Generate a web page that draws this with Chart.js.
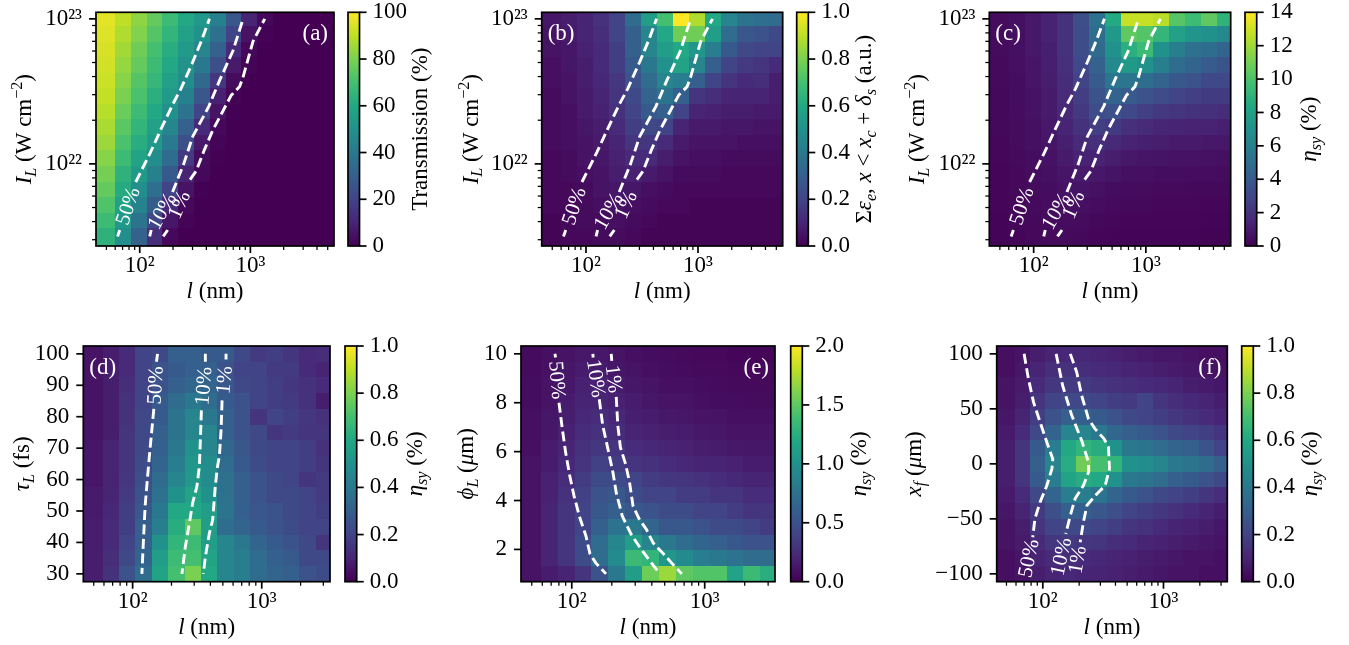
<!DOCTYPE html>
<html>
<head>
<meta charset="utf-8">
<script src="https://cdn.jsdelivr.net/npm/chart.js@4.4.0/dist/chart.umd.min.js"></script>
<style>
  html, body { margin: 0; padding: 0; background: #fff; }
  body { width: 1349px; height: 645px; position: relative; overflow: hidden; }
  canvas { position: absolute; }
</style>
</head>
<body>
<script>
// ---- grid centres ----
const lTop = [50, 69.5, 96.5, 134.1, 186.4, 259.0, 359.9, 500, 694.7, 965.3, 1341, 1864, 2590, 3598, 5000];
const intensity = [3.16e21, 4.05e21, 5.18e21, 6.63e21, 8.48e21, 1.085e22, 1.389e22, 1.778e22, 2.276e22, 2.911e22, 3.728e22, 4.768e22, 6.102e22, 7.809e22, 1e23];
const lBottom = [50, 67.0, 89.8, 120.3, 161.1, 215.9, 289.2, 387.5, 519.2, 695.6, 932.0, 1249, 1673, 2242, 3000];
const tau = [30, 35, 40, 45, 50, 55, 60, 65, 70, 75, 80, 85, 90, 95, 100];
const phi = [1, 1.64, 2.29, 2.93, 3.57, 4.21, 4.86, 5.5, 6.14, 6.79, 7.43, 8.07, 8.71, 9.36, 10];
const xFocus = [-100, -85.7, -71.4, -57.1, -42.9, -28.6, -14.3, 0, 14.3, 28.6, 42.9, 57.1, 71.4, 85.7, 100];

// ---- cell values, first row = top of the panel ----
const transmission = [
  [96, 90, 83, 76, 68, 60, 53, 43, 27, 10, 2, 0, 0, 0, 0],
  [95, 88, 81, 73, 65, 57, 50, 37, 20, 5, 0.5, 0, 0, 0, 0],
  [94, 86, 78, 70, 62, 54, 45, 31, 12, 2, 0, 0, 0, 0, 0],
  [93, 84, 76, 68, 60, 51, 40, 24, 7, 1, 0, 0, 0, 0, 0],
  [92, 82, 73, 66, 57, 48, 34, 16, 3, 0, 0, 0, 0, 0, 0],
  [91, 80, 71, 63, 54, 43, 27, 9, 1, 0, 0, 0, 0, 0, 0],
  [89, 77, 68, 60, 50, 38, 20, 5, 0.4, 0, 0, 0, 0, 0, 0],
  [87, 74, 65, 57, 46, 31, 12, 2, 0, 0, 0, 0, 0, 0, 0],
  [85, 71, 62, 53, 41, 24, 7, 1, 0, 0, 0, 0, 0, 0, 0],
  [82, 68, 58, 48, 35, 17, 3, 0.3, 0, 0, 0, 0, 0, 0, 0],
  [79, 64, 54, 43, 28, 10, 2, 0, 0, 0, 0, 0, 0, 0, 0],
  [76, 61, 49, 36, 20, 5, 0.4, 0, 0, 0, 0, 0, 0, 0, 0],
  [72, 57, 44, 29, 12, 2, 0, 0, 0, 0, 0, 0, 0, 0, 0],
  [68, 53, 38, 21, 6, 1, 0, 0, 0, 0, 0, 0, 0, 0, 0],
  [64, 49, 31, 13, 2, 0, 0, 0, 0, 0, 0, 0, 0, 0, 0]
];
const electronEnergy = [
  [0.06, 0.08, 0.1, 0.14, 0.2, 0.35, 0.55, 0.7, 1.0, 0.88, 0.6, 0.45, 0.38, 0.36, 0.35],
  [0.05, 0.07, 0.1, 0.13, 0.2, 0.3, 0.45, 0.6, 0.78, 0.78, 0.55, 0.35, 0.27, 0.25, 0.22],
  [0.05, 0.06, 0.09, 0.12, 0.18, 0.3, 0.45, 0.55, 0.6, 0.52, 0.42, 0.28, 0.22, 0.2, 0.2],
  [0.04, 0.06, 0.08, 0.12, 0.18, 0.28, 0.4, 0.5, 0.58, 0.45, 0.3, 0.2, 0.17, 0.15, 0.12],
  [0.04, 0.05, 0.08, 0.11, 0.16, 0.25, 0.35, 0.45, 0.42, 0.3, 0.2, 0.15, 0.12, 0.13, 0.08],
  [0.03, 0.05, 0.07, 0.1, 0.15, 0.22, 0.32, 0.38, 0.3, 0.15, 0.13, 0.1, 0.1, 0.1, 0.08],
  [0.03, 0.04, 0.07, 0.09, 0.14, 0.2, 0.28, 0.3, 0.2, 0.1, 0.09, 0.08, 0.08, 0.07, 0.07],
  [0.03, 0.04, 0.06, 0.08, 0.12, 0.18, 0.22, 0.2, 0.1, 0.07, 0.07, 0.06, 0.06, 0.05, 0.05],
  [0.03, 0.04, 0.05, 0.07, 0.1, 0.15, 0.16, 0.12, 0.07, 0.05, 0.05, 0.05, 0.04, 0.04, 0.04],
  [0.02, 0.03, 0.05, 0.06, 0.09, 0.12, 0.12, 0.08, 0.05, 0.04, 0.04, 0.03, 0.03, 0.03, 0.03],
  [0.02, 0.03, 0.04, 0.05, 0.08, 0.09, 0.07, 0.05, 0.03, 0.03, 0.03, 0.02, 0.02, 0.02, 0.02],
  [0.02, 0.02, 0.03, 0.05, 0.06, 0.06, 0.04, 0.03, 0.02, 0.02, 0.02, 0.02, 0.02, 0.02, 0.02],
  [0.02, 0.02, 0.03, 0.04, 0.05, 0.04, 0.03, 0.02, 0.02, 0.01, 0.01, 0.01, 0.01, 0.01, 0.01],
  [0.01, 0.02, 0.03, 0.03, 0.04, 0.03, 0.02, 0.01, 0.01, 0.01, 0.01, 0.01, 0.01, 0.01, 0.01],
  [0.01, 0.02, 0.02, 0.03, 0.03, 0.02, 0.01, 0.01, 0.01, 0.01, 0.01, 0.01, 0.01, 0.01, 0.01]
];
const etaIntensity = [
  [0.4, 0.6, 0.9, 1.3, 2.0, 3.3, 5.2, 8.5, 12.8, 12.8, 12.5, 10.3, 9.5, 10.5, 9.0],
  [0.4, 0.6, 0.9, 1.3, 2.0, 3.2, 5.0, 7.5, 10.5, 10.2, 9.2, 8.0, 7.2, 7.0, 6.5],
  [0.4, 0.6, 0.9, 1.2, 2.0, 3.2, 4.8, 7.0, 8.8, 9.5, 7.0, 6.0, 5.2, 5.0, 4.5],
  [0.35, 0.55, 0.8, 1.2, 1.9, 3.0, 4.3, 6.5, 7.5, 7.0, 6.0, 5.0, 4.5, 4.0, 3.6],
  [0.35, 0.5, 0.8, 1.1, 1.8, 2.8, 4.0, 5.5, 5.5, 5.0, 4.5, 3.8, 3.5, 3.0, 3.0],
  [0.3, 0.5, 0.7, 1.0, 1.7, 2.5, 3.6, 4.5, 4.0, 3.5, 3.2, 2.8, 2.6, 2.4, 2.4],
  [0.3, 0.45, 0.7, 1.0, 1.6, 2.3, 3.2, 3.5, 3.0, 2.6, 2.3, 2.1, 2.0, 1.9, 1.8],
  [0.3, 0.4, 0.6, 0.9, 1.4, 2.0, 2.6, 2.4, 1.9, 1.7, 1.5, 1.4, 1.3, 1.3, 1.2],
  [0.25, 0.4, 0.6, 0.8, 1.2, 1.7, 1.9, 1.6, 1.3, 1.2, 1.1, 1.0, 1.0, 0.9, 0.9],
  [0.25, 0.35, 0.5, 0.7, 1.0, 1.3, 1.3, 1.1, 0.9, 0.8, 0.75, 0.7, 0.7, 0.65, 0.6],
  [0.2, 0.3, 0.45, 0.6, 0.8, 1.0, 0.9, 0.75, 0.6, 0.55, 0.5, 0.5, 0.45, 0.45, 0.4],
  [0.2, 0.3, 0.4, 0.5, 0.7, 0.75, 0.65, 0.5, 0.4, 0.4, 0.35, 0.35, 0.3, 0.3, 0.3],
  [0.2, 0.25, 0.35, 0.45, 0.55, 0.55, 0.45, 0.35, 0.3, 0.3, 0.25, 0.25, 0.25, 0.2, 0.2],
  [0.15, 0.25, 0.3, 0.4, 0.45, 0.4, 0.3, 0.25, 0.2, 0.2, 0.2, 0.2, 0.2, 0.15, 0.15],
  [0.15, 0.2, 0.3, 0.35, 0.35, 0.3, 0.2, 0.15, 0.15, 0.15, 0.15, 0.15, 0.15, 0.1, 0.1]
];
const etaTau = [
  [0.05, 0.08, 0.12, 0.2, 0.22, 0.3, 0.3, 0.28, 0.28, 0.22, 0.17, 0.18, 0.15, 0.12, 0.13],
  [0.05, 0.08, 0.12, 0.2, 0.25, 0.28, 0.3, 0.3, 0.25, 0.2, 0.2, 0.17, 0.17, 0.12, 0.1],
  [0.05, 0.08, 0.13, 0.2, 0.25, 0.3, 0.33, 0.32, 0.27, 0.22, 0.2, 0.18, 0.16, 0.14, 0.12],
  [0.05, 0.08, 0.14, 0.2, 0.28, 0.35, 0.4, 0.35, 0.28, 0.25, 0.2, 0.18, 0.17, 0.14, 0.08],
  [0.05, 0.08, 0.14, 0.22, 0.28, 0.38, 0.45, 0.4, 0.3, 0.25, 0.15, 0.2, 0.18, 0.16, 0.14],
  [0.05, 0.08, 0.15, 0.22, 0.3, 0.38, 0.45, 0.45, 0.3, 0.25, 0.22, 0.15, 0.17, 0.15, 0.15],
  [0.06, 0.1, 0.15, 0.22, 0.3, 0.4, 0.5, 0.45, 0.33, 0.27, 0.22, 0.2, 0.2, 0.18, 0.14],
  [0.06, 0.1, 0.15, 0.23, 0.32, 0.42, 0.52, 0.48, 0.35, 0.28, 0.23, 0.2, 0.2, 0.18, 0.15],
  [0.06, 0.1, 0.16, 0.24, 0.35, 0.45, 0.53, 0.48, 0.37, 0.3, 0.25, 0.22, 0.2, 0.15, 0.17],
  [0.07, 0.1, 0.17, 0.25, 0.37, 0.5, 0.58, 0.5, 0.37, 0.3, 0.25, 0.22, 0.22, 0.2, 0.17],
  [0.07, 0.11, 0.18, 0.27, 0.4, 0.6, 0.6, 0.55, 0.38, 0.3, 0.27, 0.25, 0.22, 0.2, 0.18],
  [0.08, 0.12, 0.18, 0.3, 0.42, 0.62, 0.75, 0.55, 0.35, 0.32, 0.28, 0.25, 0.23, 0.2, 0.2],
  [0.08, 0.12, 0.2, 0.3, 0.5, 0.65, 0.68, 0.55, 0.45, 0.4, 0.32, 0.28, 0.25, 0.22, 0.15],
  [0.08, 0.13, 0.22, 0.32, 0.55, 0.68, 0.7, 0.58, 0.45, 0.42, 0.35, 0.3, 0.28, 0.22, 0.22],
  [0.08, 0.14, 0.25, 0.35, 0.58, 0.7, 0.8, 0.6, 0.45, 0.42, 0.35, 0.32, 0.3, 0.25, 0.23]
];
const etaPhi = [
  [0.06, 0.08, 0.1, 0.13, 0.13, 0.1, 0.08, 0.07, 0.06, 0.05, 0.04, 0.04, 0.03, 0.03, 0.03],
  [0.06, 0.09, 0.12, 0.15, 0.15, 0.12, 0.1, 0.08, 0.07, 0.06, 0.05, 0.05, 0.04, 0.04, 0.04],
  [0.07, 0.1, 0.13, 0.18, 0.18, 0.15, 0.12, 0.1, 0.08, 0.08, 0.07, 0.06, 0.05, 0.05, 0.05],
  [0.07, 0.1, 0.15, 0.2, 0.2, 0.18, 0.15, 0.12, 0.1, 0.1, 0.08, 0.07, 0.07, 0.06, 0.06],
  [0.08, 0.12, 0.16, 0.22, 0.25, 0.22, 0.17, 0.15, 0.13, 0.12, 0.1, 0.1, 0.08, 0.08, 0.08],
  [0.08, 0.12, 0.18, 0.25, 0.28, 0.25, 0.2, 0.18, 0.16, 0.15, 0.13, 0.12, 0.1, 0.1, 0.1],
  [0.08, 0.15, 0.2, 0.28, 0.32, 0.3, 0.25, 0.22, 0.2, 0.18, 0.16, 0.15, 0.13, 0.12, 0.12],
  [0.1, 0.15, 0.22, 0.3, 0.38, 0.35, 0.3, 0.28, 0.25, 0.22, 0.2, 0.2, 0.18, 0.15, 0.15],
  [0.1, 0.18, 0.25, 0.35, 0.45, 0.45, 0.4, 0.35, 0.32, 0.3, 0.28, 0.25, 0.22, 0.2, 0.2],
  [0.1, 0.18, 0.28, 0.38, 0.5, 0.55, 0.45, 0.4, 0.4, 0.35, 0.35, 0.3, 0.3, 0.25, 0.25],
  [0.1, 0.2, 0.3, 0.4, 0.55, 0.6, 0.55, 0.5, 0.45, 0.45, 0.4, 0.4, 0.35, 0.3, 0.3],
  [0.1, 0.2, 0.3, 0.4, 0.6, 0.75, 0.8, 0.65, 0.55, 0.55, 0.5, 0.45, 0.45, 0.4, 0.35],
  [0.1, 0.2, 0.3, 0.45, 0.7, 0.9, 1.1, 0.9, 0.8, 0.7, 0.65, 0.6, 0.55, 0.5, 0.5],
  [0.1, 0.2, 0.3, 0.45, 0.7, 0.95, 1.35, 1.3, 1.05, 0.95, 0.85, 0.8, 0.75, 0.7, 0.7],
  [0.1, 0.15, 0.2, 0.3, 0.5, 0.8, 1.1, 1.55, 1.7, 1.5, 1.45, 1.45, 1.15, 1.35, 1.25]
];
const etaFocus = [
  [0.04, 0.05, 0.08, 0.1, 0.11, 0.11, 0.1, 0.09, 0.08, 0.07, 0.06, 0.06, 0.05, 0.04, 0.04],
  [0.04, 0.06, 0.1, 0.13, 0.14, 0.13, 0.12, 0.11, 0.1, 0.09, 0.08, 0.07, 0.06, 0.05, 0.05],
  [0.05, 0.07, 0.12, 0.16, 0.17, 0.17, 0.15, 0.14, 0.13, 0.12, 0.11, 0.1, 0.08, 0.07, 0.06],
  [0.05, 0.08, 0.15, 0.2, 0.22, 0.22, 0.2, 0.18, 0.17, 0.2, 0.15, 0.13, 0.11, 0.1, 0.08],
  [0.06, 0.1, 0.18, 0.25, 0.3, 0.3, 0.28, 0.25, 0.22, 0.2, 0.18, 0.16, 0.14, 0.12, 0.1],
  [0.07, 0.12, 0.22, 0.32, 0.45, 0.45, 0.4, 0.33, 0.3, 0.28, 0.25, 0.22, 0.2, 0.18, 0.15],
  [0.08, 0.15, 0.28, 0.42, 0.6, 0.65, 0.62, 0.5, 0.4, 0.38, 0.35, 0.32, 0.3, 0.25, 0.2],
  [0.08, 0.15, 0.3, 0.45, 0.62, 0.78, 0.7, 0.65, 0.5, 0.48, 0.45, 0.4, 0.38, 0.35, 0.3],
  [0.08, 0.15, 0.28, 0.42, 0.58, 0.62, 0.6, 0.5, 0.4, 0.38, 0.35, 0.3, 0.28, 0.25, 0.22],
  [0.07, 0.12, 0.22, 0.32, 0.42, 0.42, 0.38, 0.32, 0.28, 0.25, 0.22, 0.2, 0.18, 0.15, 0.13],
  [0.06, 0.1, 0.17, 0.24, 0.3, 0.3, 0.27, 0.24, 0.2, 0.18, 0.16, 0.14, 0.12, 0.1, 0.08],
  [0.05, 0.08, 0.15, 0.2, 0.22, 0.22, 0.2, 0.18, 0.15, 0.14, 0.12, 0.1, 0.09, 0.08, 0.06],
  [0.05, 0.07, 0.12, 0.16, 0.17, 0.16, 0.15, 0.13, 0.12, 0.1, 0.09, 0.08, 0.07, 0.06, 0.05],
  [0.04, 0.06, 0.1, 0.12, 0.13, 0.12, 0.11, 0.1, 0.09, 0.08, 0.07, 0.06, 0.05, 0.05, 0.04],
  [0.04, 0.05, 0.08, 0.1, 0.11, 0.1, 0.1, 0.09, 0.08, 0.07, 0.06, 0.05, 0.05, 0.04, 0.04]
];

// ---- contour paths [l, y]; null = gap where the label sits ----
const top50 = [[63, 3.16e21], [66, 3.5e21], null, [92, 7.5e21], [125, 1.2e22], [157, 1.76e22], [200, 2.6e22], [236, 3.3e22], [300, 5.0e22], [360, 7.0e22], [427, 1e23]];
const top10 = [[123, 3.16e21], [127, 3.5e21], null, [198, 6.4e21], [250, 1.0e22], [301, 1.54e22], [421, 2.49e22], [526, 3.75e22], [695, 6.0e22], [860, 1e23]];
const top1 = [[163, 3.16e21], [179, 3.5e21], null, [285, 7.8e21], [323, 8.9e21], [384, 1.25e22], [458, 1.71e22], [671, 2.97e22], [800, 3.41e22], [857, 3.94e22], [1057, 7.0e22], [1349, 1e23]];
const tau50 = [[156, 100], [153, 97.5], null, [146, 82.5], [141, 76], [135, 67.6], [130, 60], [125, 51.5], [121, 39.7], [118, 30]];
const tau10 = [[366, 100], [366, 97.5], null, [341, 82], [335, 72.9], [329, 64.3], [315, 57.9], [292, 52.6], [275, 46.1], [256, 38.6], [241, 30]];
const tau1 = [[529, 100], [529, 98.2], null, [493, 85.2], [485, 76.1], [470, 67.6], [451, 63.3], [435, 56.9], [417, 47.2], [393, 42.9], [366, 35.4], [353, 30]];
const phi50 = [[74.7, 10], [75.5, 9.85], null, [80.1, 8.0], [84.9, 6.93], [89.9, 5.97], [96.6, 5.01], [104, 4.19], [114, 3.36], [128, 2.54], [137, 1.82], [152, 1.44], [181, 1.0]];
const phi10 = [[144, 10], [145, 9.85], null, [161, 8.14], [171, 7.07], [187, 6.11], [204, 5.15], [216, 4.32], [240, 3.36], [281, 2.6], [334, 1.99], [398, 1.44], [460, 1.0]];
const phi1 = [[198, 10], [200, 9.71], null, [216, 8.24], [222, 7.07], [232, 6.18], [254, 5.49], [272, 4.74], [289, 3.77], [321, 3.25], [365, 2.81], [410, 2.26], [489, 1.82], [565, 1.44], [673, 1.0]];
const focus50 = [[70, 100], [76, 77.3], [83.8, 56.1], [95, 37.9], [108, 19.7], [121, 4.5], [119, -4.5], [108, -19.7], [95, -34.8], [86, -50], [82.6, -66.7], null, [70, -105]];
const focus10 = [[129, 100], [146, 71.2], [174, 43.9], [210, 21.2], [239, 1.5], [239, -7.6], [217, -19.7], [185, -31.8], [169, -47], [155, -63.6], null, [129, -105]];
const focus1 = [[169, 100], [191, 83.3], [210, 62.1], [239, 40.9], [271, 31.8], [322, 22.7], [350, 15.2], [357, -4.5], [329, -19.7], [272, -28.8], [232, -37.9], [217, -53], [204, -71.2], null, [182, -103]];

// ---- ticks ----
const lTicks = [100, 1000];
const lTickLabels = ['10²', '10³'];
const iTicks = [1e22, 1e23];
const iTickLabels = ['10²²', '10²³'];
const tauTicks = [30, 40, 50, 60, 70, 80, 90, 100];
const phiTicks = [2, 4, 6, 8, 10];
const focusTicks = [-100, -50, 0, 50, 100];
const focusTickLabels = ['−100', '−50', '0', '50', '100'];
const transTicks = [0, 20, 40, 60, 80, 100];
const unitTicks = [0, 0.2, 0.4, 0.6, 0.8, 1.0];
const unitTickLabels = ['0.0', '0.2', '0.4', '0.6', '0.8', '1.0'];
const etaTicks = [0, 2, 4, 6, 8, 10, 12, 14];
const phiEtaTicks = [0, 0.5, 1, 1.5, 2];
const phiEtaTickLabels = ['0.0', '0.5', '1.0', '1.5', '2.0'];

const SERIF = '"Liberation Serif", "DejaVu Serif", serif';
const FS = 23;
const VIRIDIS = ['#440154', '#482475', '#414487', '#355f8d', '#2a788e', '#21918c', '#22a884', '#44bf70', '#7ad151', '#bddf26', '#fde725'];
const RGB = VIRIDIS.map(h => [1, 3, 5].map(k => parseInt(h.substr(k, 2), 16)));

function viridis(t) {
  t = Math.min(1, Math.max(0, t)) * (RGB.length - 1);
  const i = Math.min(Math.floor(t), RGB.length - 2), f = t - i;
  const c = RGB[i].map((v, k) => Math.round(v + (RGB[i + 1][k] - v) * f));
  return `rgb(${c[0]},${c[1]},${c[2]})`;
}

// pcolormesh style cell edges from the centres
function edges(c) {
  const n = c.length, e = [c[0] - (c[1] - c[0]) / 2];
  for (let i = 0; i < n - 1; i++) e.push((c[i] + c[i + 1]) / 2);
  e.push(c[n - 1] + (c[n - 1] - c[n - 2]) / 2);
  return e;
}

function logMinor(min, max) {
  const out = [];
  for (let e = Math.floor(Math.log10(min)); e <= Math.ceil(Math.log10(max)); e++) {
    for (let m = 2; m <= 9; m++) {
      const v = m * Math.pow(10, e);
      if (v >= min && v <= max) out.push(v);
    }
  }
  return out;
}

function richText(ctx, parts, x, y, angle, color) {
  const font = p => `${p.i ? 'italic ' : ''}${p.s ? FS * 0.7 : FS}px ${SERIF}`;
  ctx.save();
  ctx.translate(x, y);
  ctx.rotate(angle);
  let w = 0;
  parts.forEach(p => { ctx.font = font(p); w += ctx.measureText(p.t).width; });
  let cx = -w / 2;
  ctx.fillStyle = color || '#000';
  ctx.textAlign = 'left';
  ctx.textBaseline = 'alphabetic';
  parts.forEach(p => {
    ctx.font = font(p);
    const dy = p.s === 'sub' ? 0.2 * FS : p.s === 'sup' ? -0.4 * FS : 0;
    ctx.fillText(p.t, cx, dy);
    cx += ctx.measureText(p.t).width;
  });
  ctx.restore();
}

const T_L = [{t: 'l', i: 1}, {t: ' (nm)'}];
const T_I = [{t: 'I', i: 1}, {t: 'L', i: 1, s: 'sub'}, {t: ' (W cm'}, {t: '−2', s: 'sup'}, {t: ')'}];
const T_TAU = [{t: 'τ', i: 1}, {t: 'L', i: 1, s: 'sub'}, {t: ' (fs)'}];
const T_PHI = [{t: 'ϕ', i: 1}, {t: 'L', i: 1, s: 'sub'}, {t: ' ('}, {t: 'μ', i: 1}, {t: 'm)'}];
const T_XF = [{t: 'x', i: 1}, {t: 'f', i: 1, s: 'sub'}, {t: ' ('}, {t: 'μ', i: 1}, {t: 'm)'}];
const T_TRANS = [{t: 'Transmission (%)'}];
const T_SUM = [{t: 'Σ'}, {t: 'ε', i: 1}, {t: 'e', i: 1, s: 'sub'}, {t: ', '}, {t: 'x', i: 1}, {t: ' < '}, {t: 'x', i: 1}, {t: 'c', i: 1, s: 'sub'}, {t: ' + '}, {t: 'δ', i: 1}, {t: 's', i: 1, s: 'sub'}, {t: ' (a.u.)'}];
const T_ETA = [{t: 'η', i: 1}, {t: 'sy', i: 1, s: 'sub'}, {t: ' (%)'}];

function axisOpts(type, min, max, major, labels, minor, pad, fit, pos) {
  const all = major.concat(minor).sort((a, b) => a - b);
  return {
    type, min, max, position: pos, bounds: 'data',
    grid: {display: false, drawTicks: false},
    border: {display: false},
    afterBuildTicks: s => { s.ticks = all.map(v => ({value: v})); },
    ticks: {
      autoSkip: false, maxRotation: 0, minRotation: 0, padding: pad, color: '#000',
      font: {family: SERIF, size: FS},
      callback: v => { const k = major.indexOf(v); return k >= 0 ? labels[k] : ''; }
    },
    afterFit: fit
  };
}

function makePanel(p) {
  const [L, T, W, H] = p.box;
  const al = p.area[0] - L, at = p.area[1] - T, ar = p.area[2] - L, ab = p.area[3] - T;
  const cl = p.cb[0] - L, cr = p.cb[1] - L;
  const canvas = document.createElement('canvas');
  canvas.width = W; canvas.height = H;
  canvas.style.left = L + 'px'; canvas.style.top = T + 'px';
  canvas.style.width = W + 'px'; canvas.style.height = H + 'px';
  document.body.appendChild(canvas);

  const xe = edges(p.x), ye = edges(p.y);
  const xMinor = logMinor(xe[0], xe[xe.length - 1]);
  const yMinor = p.yLog ? logMinor(ye[0], ye[ye.length - 1]) : [];

  const datasets = [], labels = [];
  p.contours.forEach(c => {
    let seg = [];
    c.pts.forEach((pt, k) => {
      if (pt === null) {
        datasets.push(seg); seg = [];
        labels.push({text: c.text, a: c.pts[k - 1], b: c.pts[k + 1]});
      } else seg.push({x: pt[0], y: pt[1]});
    });
    datasets.push(seg);
  });

  const panelPlugin = {
    id: 'panel_' + p.tag,
    beforeDatasetsDraw(chart) {
      const {ctx, chartArea: a, scales: {x, y}} = chart;
      ctx.save();
      ctx.beginPath(); ctx.rect(a.left, a.top, a.width, a.height); ctx.clip();
      p.z.forEach((row, r) => {
        const j = p.y.length - 1 - r;
        const y0 = Math.round(y.getPixelForValue(ye[j])), y1 = Math.round(y.getPixelForValue(ye[j + 1]));
        row.forEach((v, i) => {
          const x0 = Math.round(x.getPixelForValue(xe[i])), x1 = Math.round(x.getPixelForValue(xe[i + 1]));
          ctx.fillStyle = viridis(v / p.zMax);
          ctx.fillRect(x0, y1, x1 - x0, y0 - y1);
        });
      });
      ctx.restore();
      const g = ctx.createLinearGradient(0, a.bottom, 0, a.top);
      VIRIDIS.forEach((c, k) => g.addColorStop(k / (VIRIDIS.length - 1), c));
      ctx.fillStyle = g;
      ctx.fillRect(cl, a.top, cr - cl, a.height);
    },
    afterDatasetsDraw(chart) {
      const {ctx, scales: {x, y}} = chart;
      ctx.save();
      ctx.fillStyle = '#fff';
      ctx.font = `21px ${SERIF}`;
      ctx.textAlign = 'center';
      ctx.textBaseline = 'middle';
      labels.forEach(lb => {
        const ax = x.getPixelForValue(lb.a[0]), ay = y.getPixelForValue(lb.a[1]);
        const bx = x.getPixelForValue(lb.b[0]), by = y.getPixelForValue(lb.b[1]);
        let ang = Math.atan2(by - ay, bx - ax);
        if (ang > Math.PI / 2) ang -= Math.PI;
        if (ang <= -Math.PI / 2) ang += Math.PI;
        ctx.save();
        ctx.translate((ax + bx) / 2, (ay + by) / 2);
        ctx.rotate(ang);
        ctx.fillText(lb.text, 0, 1);
        ctx.restore();
      });
      ctx.restore();
    },
    afterDraw(chart) {
      const {ctx, chartArea: a, scales: {x, y, cb}} = chart;
      ctx.save();
      ctx.strokeStyle = '#000';
      ctx.lineWidth = 1.7;
      ctx.strokeRect(a.left, a.top, a.width, a.height);
      ctx.strokeRect(cl, a.top, cr - cl, a.height);
      const tick = (x0, y0, x1, y1, major) => {
        ctx.lineWidth = major ? 1.7 : 1.25;
        ctx.beginPath(); ctx.moveTo(x0, y0); ctx.lineTo(x1, y1); ctx.stroke();
      };
      x.ticks.forEach(t => {
        const px = x.getPixelForValue(t.value), mj = p.xTicks.includes(t.value);
        tick(px, a.bottom, px, a.bottom + (mj ? 7 : 4), mj);
      });
      y.ticks.forEach(t => {
        const py = y.getPixelForValue(t.value), mj = p.yTicks.includes(t.value);
        tick(a.left - (mj ? 7 : 4), py, a.left, py, mj);
      });
      cb.ticks.forEach(t => {
        const py = cb.getPixelForValue(t.value);
        tick(cr, py, cr + 7, py, true);
      });
      ctx.restore();
      const midY = (a.top + a.bottom) / 2;
      richText(ctx, T_L, (a.left + a.right) / 2, a.bottom + 52, 0);
      richText(ctx, p.yTitle, a.left - p.yTitleOff, midY, -Math.PI / 2);
      richText(ctx, p.cbTitle, cr + p.cbTitleOff, midY, -Math.PI / 2);
      ctx.save();
      ctx.fillStyle = '#fff';
      ctx.font = `${FS}px ${SERIF}`;
      ctx.textBaseline = 'alphabetic';
      ctx.textAlign = p.tagRight ? 'right' : 'left';
      ctx.fillText(p.tag, p.tagRight ? a.right - 6 : a.left + 6, a.top + 28);
      ctx.restore();
    }
  };

  new Chart(canvas, {
    type: 'scatter',
    data: {
      datasets: datasets.map(d => ({
        data: d, showLine: true, pointRadius: 0, borderColor: '#fff', borderWidth: 2.9,
        borderDash: [10, 4.5], borderCapStyle: 'butt', borderJoinStyle: 'round',
        tension: 0, fill: false, xAxisID: 'x', yAxisID: 'y'
      }))
    },
    options: {
      responsive: false,
      animation: false,
      events: [],
      layout: {autoPadding: false, padding: {top: at, left: 0, right: 0, bottom: 0}},
      plugins: {legend: {display: false}, tooltip: {enabled: false}},
      scales: {
        x: axisOpts('logarithmic', xe[0], xe[xe.length - 1], p.xTicks, lTickLabels, xMinor, 6,
          s => { s.height = H - ab; s.paddingLeft = 0; s.paddingRight = 0; }, 'bottom'),
        y: axisOpts(p.yLog ? 'logarithmic' : 'linear', ye[0], ye[ye.length - 1], p.yTicks, p.yTickLabels, yMinor, 14,
          s => { s.width = al; s.paddingTop = 0; s.paddingBottom = 0; }, 'left'),
        cb: axisOpts('linear', 0, p.zMax, p.cbTicks, p.cbTickLabels, [], cr - ar + 13,
          s => { s.width = W - ar; s.paddingTop = 0; s.paddingBottom = 0; }, 'right')
      }
    },
    plugins: [panelPlugin]
  });
}

const topContours = [{pts: top50, text: '50%'}, {pts: top10, text: '10%'}, {pts: top1, text: '1%'}];
const topCommon = {x: lTop, y: intensity, yLog: true, xTicks: lTicks, yTicks: iTicks, yTickLabels: iTickLabels, yTitle: T_I, contours: topContours};

makePanel(Object.assign({}, topCommon, {
  box: [0, 0, 449, 322], area: [96, 12.3, 334, 246], cb: [348, 359.5],
  z: transmission, zMax: 100, cbTicks: transTicks, cbTickLabels: transTicks.map(String),
  yTitleOff: 65, cbTitle: T_TRANS, cbTitleOff: 67.5, tag: '(a)', tagRight: true
}));
makePanel(Object.assign({}, topCommon, {
  box: [449, 0, 450, 322], area: [541.7, 12.3, 782.7, 246], cb: [796.7, 808.3],
  z: electronEnergy, zMax: 1, cbTicks: unitTicks, cbTickLabels: unitTickLabels,
  yTitleOff: 64, cbTitle: T_SUM, cbTitleOff: 62.7, tag: '(b)', tagRight: false
}));
makePanel(Object.assign({}, topCommon, {
  box: [899, 0, 450, 322], area: [989.3, 12.3, 1230.7, 246], cb: [1245, 1256.7],
  z: etaIntensity, zMax: 14, cbTicks: etaTicks, cbTickLabels: etaTicks.map(String),
  yTitleOff: 65, cbTitle: T_ETA, cbTitleOff: 59.3, tag: '(c)', tagRight: false
}));
makePanel({
  box: [0, 322, 449, 323], area: [83.3, 346, 330, 581.7], cb: [345, 356.7],
  x: lBottom, y: tau, yLog: false, z: etaTau, zMax: 1,
  xTicks: lTicks, yTicks: tauTicks, yTickLabels: tauTicks.map(String),
  cbTicks: unitTicks, cbTickLabels: unitTickLabels,
  yTitle: T_TAU, yTitleOff: 54, cbTitle: T_ETA, cbTitleOff: 65.3, tag: '(d)', tagRight: false,
  contours: [{pts: tau50, text: '50%'}, {pts: tau10, text: '10%'}, {pts: tau1, text: '1%'}]
});
makePanel({
  box: [449, 322, 450, 323], area: [521, 346, 775, 581.7], cb: [790.7, 802.3],
  x: lBottom, y: phi, yLog: false, z: etaPhi, zMax: 2,
  xTicks: lTicks, yTicks: phiTicks, yTickLabels: phiTicks.map(String),
  cbTicks: phiEtaTicks, cbTickLabels: phiEtaTickLabels,
  yTitle: T_PHI, yTitleOff: 48, cbTitle: T_ETA, cbTitleOff: 63.7, tag: '(e)', tagRight: true,
  contours: [{pts: phi50, text: '50%'}, {pts: phi10, text: '10%'}, {pts: phi1, text: '1%'}]
});
makePanel({
  box: [899, 322, 450, 323], area: [996.7, 346, 1227.3, 581.7], cb: [1241.7, 1253.3],
  x: lBottom, y: xFocus, yLog: false, z: etaFocus, zMax: 1,
  xTicks: lTicks, yTicks: focusTicks, yTickLabels: focusTickLabels,
  cbTicks: unitTicks, cbTickLabels: unitTickLabels,
  yTitle: T_XF, yTitleOff: 76, cbTitle: T_ETA, cbTitleOff: 63.7, tag: '(f)', tagRight: true,
  contours: [{pts: focus50, text: '50%'}, {pts: focus10, text: '10%'}, {pts: focus1, text: '1%'}]
});
</script>
</body>
</html>
